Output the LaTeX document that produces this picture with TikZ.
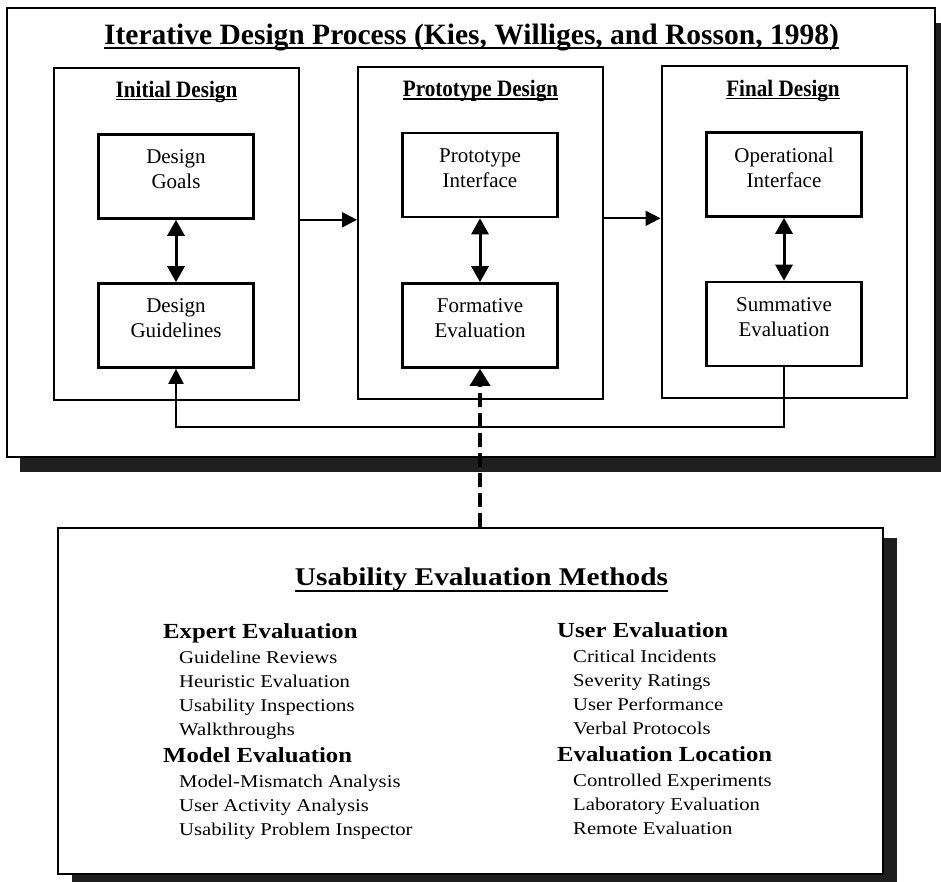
\documentclass[tikz,border=0pt]{standalone}
\usepackage{fontspec}
\setmainfont{Liberation Serif}
\newfontfamily\methfont{Liberation Serif}[FakeStretch=1.15]
\newfontfamily\phasefont{Liberation Serif}[FakeStretch=0.9]
\usetikzlibrary{arrows.meta,shadows}

\newsavebox\ulinebox
\newcommand\ulined[2]{\sbox\ulinebox{#2}\rlap{\rule[-#1]{\wd\ulinebox}{1.8pt}}\usebox\ulinebox}
\newcommand\mhead[1]{{\fontsize{21.5}{24}\selectfont\bfseries #1}}
\newcommand\mitem[1]{\hspace*{16pt}#1}

\tikzset{
  shadowbox/.style={draw, fill=white, line width=2pt},
  phasebox/.style={draw, line width=2pt, minimum width=245pt, minimum height=332pt},
  stepbox/.style={draw, line width=2.6pt, minimum width=155pt, minimum height=84pt,
    align=center, text depth=14pt, font=\fontsize{21}{25}\selectfont},
  phasetitle/.style={anchor=base, font=\phasefont\bfseries\fontsize{23.5}{28}\selectfont},
  link/.style={line width=2pt, -{Triangle[length=15pt,width=15pt]}},
  twoway/.style={line width=3pt, {Triangle[length=16pt,width=17pt]}-{Triangle[length=16pt,width=17pt]}},
}

\begin{document}
\begin{tikzpicture}[x=1pt,y=-1pt]
\useasboundingbox (0,0) rectangle (941,882);
% the iterative process frame
\node[shadowbox, minimum width=928pt, minimum height=449pt,
  drop shadow={shadow xshift=13pt, shadow yshift=-15pt, fill=black!88, opacity=1}] (process) at (471,232.5) {};
\node[anchor=base, font=\bfseries\fontsize{29.5}{34}\selectfont] (title) at (471.5,45)
  {\ulined{4pt}{Iterative Design Process (Kies, Williges, and Rosson, 1998)}};

\node[phasebox] (initial) at (176.5,234) {};
\node[phasebox] (proto) at (480.5,233) {};
\node[phasebox] (final) at (784,232) {};
\node[phasetitle] (initialtitle) at (176.5,97.5) {\ulined{3pt}{Initial Design}};
\node[phasetitle] (prototitle) at (480.5,97) {\ulined{3pt}{Prototype Design}};
\node[phasetitle] (finaltitle) at (783,96.5) {\ulined{3pt}{Final Design}};

\node[stepbox] (goals) at (176,176.5) {Design\\Goals};
\node[stepbox] (guide) at (176,325.5) {Design\\Guidelines};
\node[stepbox] (protoif) at (480,175) {Prototype\\Interface};
\node[stepbox] (formeval) at (480,325.5) {Formative\\Evaluation};
\node[stepbox] (operif) at (784,174.5) {Operational\\Interface};
\node[stepbox] (summeval) at (784,324) {Summative\\Evaluation};

\draw[twoway] (goals.south) -- (guide.north);
\draw[twoway] (protoif.south) -- (formeval.north);
\draw[twoway] (operif.south) -- (summeval.north);
\draw[link] (initial.east |- goals.south) -- (proto.west |- goals.south);
\draw[link] (proto.east |- protoif.south) -- (final.west |- protoif.south);
\draw[link] (summeval.south) -- ++(0,60) -| (guide.south);

% methods frame
\node[shadowbox, minimum width=825pt, minimum height=346pt,
  drop shadow={shadow xshift=14pt, shadow yshift=-10pt, fill=black!88, opacity=1}] (methods) at (470.5,701) {};
\node[anchor=base, font=\methfont\bfseries\fontsize{25.5}{30}\selectfont] (methodstitle) at (481.5,585)
  {\ulined{6.5pt}{Usability Evaluation Methods}};
\node[anchor=base west, inner sep=0pt, font=\methfont\fontsize{18}{24}\selectfont] (expertcol) at (163,638)
  {\begin{tabular}[t]{@{}l@{}}
  \mhead{Expert Evaluation}\\[1pt]
  \mitem{Guideline Reviews}\\
  \mitem{Heuristic Evaluation}\\
  \mitem{Usability Inspections}\\
  \mitem{Walkthroughs}\\[3pt]
  \mhead{Model Evaluation}\\[1pt]
  \mitem{Model-Mismatch Analysis}\\
  \mitem{User Activity Analysis}\\
  \mitem{Usability Problem Inspector}
  \end{tabular}};
\node[anchor=base west, inner sep=0pt, font=\methfont\fontsize{18}{24}\selectfont] (usercol) at (557,637)
  {\begin{tabular}[t]{@{}l@{}}
  \mhead{User Evaluation}\\[1pt]
  \mitem{Critical Incidents}\\
  \mitem{Severity Ratings}\\
  \mitem{User Performance}\\
  \mitem{Verbal Protocols}\\[3pt]
  \mhead{Evaluation Location}\\[1pt]
  \mitem{Controlled Experiments}\\
  \mitem{Laboratory Evaluation}\\
  \mitem{Remote Evaluation}
  \end{tabular}};

\draw[link, line width=3.5pt, dash pattern=on 14pt off 6pt, -{Triangle[length=17pt,width=20pt]}]
  (formeval.south |- methods.north) -- (formeval.south);
\end{tikzpicture}
\end{document}
